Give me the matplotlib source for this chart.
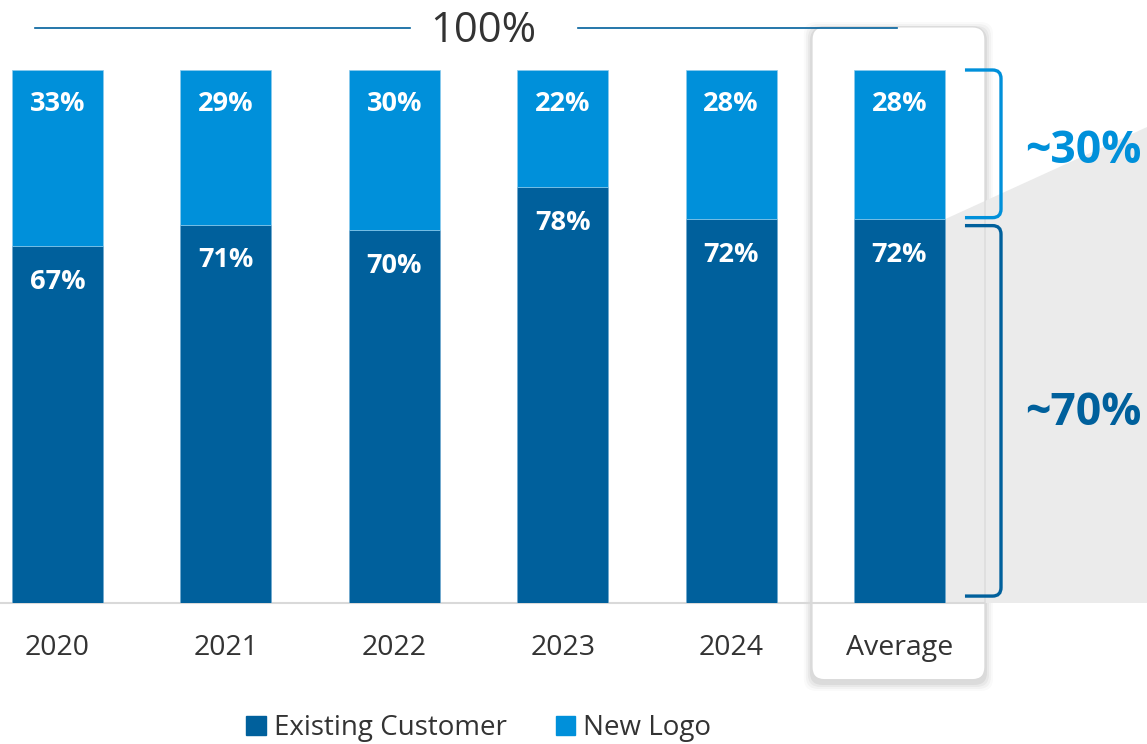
import matplotlib.pyplot as plt
from matplotlib.patches import FancyBboxPatch, Polygon, PathPatch
from matplotlib.path import Path
from matplotlib.patches import Patch

plt.rcParams['font.family'] = ['Open Sans', 'DejaVu Sans']

# Data
categories = ["2020", "2021", "2022", "2023", "2024", "Average"]
existing = [67, 71, 70, 78, 72, 72]
new_logo = [33, 29, 30, 22, 28, 28]
existing_labels = ["67%", "71%", "70%", "78%", "72%", "72%"]
new_labels = ["33%", "29%", "30%", "22%", "28%", "28%"]

dark = "#00609C"
light = "#0090DA"
grey_txt = "#333333"

fig = plt.figure(figsize=(11.47, 7.44), dpi=100)
ax = fig.add_axes([0, (744 - 603) / 744, 1, 533 / 744])
ax.set_xlim(-0.3415, 6.470)
ax.set_ylim(0, 100)
ax.axis("off")

x = list(range(len(categories)))
w = 0.54
avg_i = len(categories) - 1

# Highlight box around the Average column (rounded, with soft shadow)
bx0, bx1 = 4.48, 5.508
by0, by1 = -14.4, 108.1
aspect = 168.4 / 5.33
for k, a in enumerate([0.05, 0.04, 0.03, 0.02]):
    g = 0.012 * (k + 1)
    sh = FancyBboxPatch((bx0 - g, by0 - g * aspect - 0.6), bx1 - bx0 + 2 * g,
                        by1 - by0 + 2 * g * aspect,
                        boxstyle="round,pad=0,rounding_size=0.075",
                        mutation_aspect=aspect, fc="black", ec="none",
                        alpha=a, clip_on=False, zorder=0.3)
    ax.add_patch(sh)
box = FancyBboxPatch((bx0, by0), bx1 - bx0, by1 - by0,
                     boxstyle="round,pad=0,rounding_size=0.075",
                     mutation_aspect=aspect, fc="white", ec="none",
                     clip_on=False, zorder=0.5)
ax.add_patch(box)

# Grey wedge to the right of the Average bar
xr = x[avg_i] + w / 2
poly = Polygon([(xr, existing[avg_i]), (6.47, 89.3), (6.47, 0), (xr, 0)],
               closed=True, fc="#EBEBEB", ec="none", zorder=1, clip_on=False)
ax.add_patch(poly)

box_edge = FancyBboxPatch((bx0, by0), bx1 - bx0, by1 - by0,
                          boxstyle="round,pad=0,rounding_size=0.075",
                          mutation_aspect=aspect, fc="none", ec="#DADADA",
                          lw=1.0, clip_on=False, zorder=3)
ax.add_patch(box_edge)

# Baseline
ax.plot([-0.3415, 5.50], [0, 0], color="#D9D9D9", lw=1.5, zorder=1.5,
        clip_on=False)

# Bars
ax.bar(x, existing, width=w, color=dark, edgecolor="#6FA9CF", lw=0.5,
       zorder=2, label="Existing Customer")
ax.bar(x, new_logo, width=w, bottom=existing, color=light,
       edgecolor="#8CCBEC", lw=0.5, zorder=2, label="New Logo")

for i in x:
    ax.text(i, existing[i] - 6.7, existing_labels[i], ha="center", va="center",
            color="white", fontsize=19.5, fontweight="bold", zorder=4)
    ax.text(i, 100 - 6.4, new_labels[i], ha="center", va="center",
            color="white", fontsize=19.5, fontweight="bold", zorder=4)
    ax.text(i, -8.4, categories[i], ha="center", va="center", color=grey_txt,
            fontsize=20.5, zorder=4, clip_on=False)

# 100% line on top
ax.plot([-0.134, 2.093], [107.9, 107.9], color=dark, lw=1.2, clip_on=False)
ax.plot([3.09, 4.985], [107.9, 107.9], color=dark, lw=1.2, clip_on=False,
        zorder=3.5)
ax.text(2.527, 107.4, "100%", ha="center", va="center", color=grey_txt,
        fontsize=30, clip_on=False)


# Brackets
def bracket(y_top, y_bot, color):
    x0, x1 = 5.389, 5.603
    rx, ry = 0.05, 1.6
    verts = [(x0, y_top), (x1 - rx, y_top), (x1, y_top), (x1, y_top - ry),
             (x1, y_bot + ry), (x1, y_bot), (x1 - rx, y_bot), (x0, y_bot)]
    codes = [Path.MOVETO, Path.LINETO, Path.CURVE3, Path.CURVE3,
             Path.LINETO, Path.CURVE3, Path.CURVE3, Path.LINETO]
    ax.add_patch(PathPatch(Path(verts, codes), fc="none", ec=color, lw=2.4,
                           capstyle="butt", clip_on=False, zorder=3))


bracket(100, existing[avg_i] + 0.3, light)
bracket(existing[avg_i] - 1.2, 1.3, dark)

ax.text(6.09, 84.8, "~30%", ha="center", va="center", color=light,
        fontsize=32, fontweight="bold", clip_on=False, zorder=4)
ax.text(6.09, 35.6, "~70%", ha="center", va="center", color=dark,
        fontsize=32, fontweight="bold", clip_on=False, zorder=4)

# Legend
handles = [Patch(color=dark), Patch(color=light)]
fig.legend(handles, ["Existing Customer", "New Logo"], loc="center",
           bbox_to_anchor=(0.4175, 0.021), ncol=2, frameon=False,
           fontsize=20, handlelength=0.7, handleheight=0.7,
           handletextpad=0.3, columnspacing=1.75, labelcolor=grey_txt,
           borderpad=0.1)

fig.savefig("out.png", dpi=100)
